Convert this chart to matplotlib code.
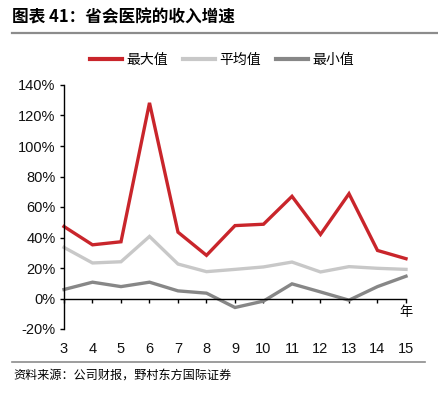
import matplotlib
matplotlib.use("Agg")
import matplotlib.pyplot as plt
from matplotlib.lines import Line2D
from matplotlib.ticker import FuncFormatter

years = [3, 4, 5, 6, 7, 8, 9, 10, 11, 12, 13, 14, 15]
max_vals = [47.2, 35.2, 37.2, 128.3, 43.5, 28.3, 47.8, 48.7, 67.0, 42.0, 68.7, 31.5, 26.1]
avg_vals = [33.5, 23.3, 24.1, 40.7, 22.6, 17.6, 19.1, 20.7, 23.9, 17.4, 20.9, 19.8, 19.1]
min_vals = [5.9, 10.7, 7.8, 10.7, 5.0, 3.5, -5.9, -1.7, 9.6, 4.3, -1.1, 7.8, 14.6]
series_names = ["最大值", "平均值", "最小值"]
yticks = [-20, 0, 20, 40, 60, 80, 100, 120, 140]

cjk = ["Noto Sans CJK SC", "DejaVu Sans"]
num = ["Liberation Sans", "DejaVu Sans"]

W, H = 439, 396
fig = plt.figure(figsize=(W / 100, H / 100), dpi=100)

def fx(px):
    return px / W

def fy(py):
    return 1 - py / H

ax = fig.add_axes([fx(64), fy(329), fx(406) - fx(64), fy(85) - fy(329)])

colors = ["#C9252B", "#C8C8C8", "#878787"]
for vals, c, name in zip([max_vals, avg_vals, min_vals], colors, series_names):
    ax.plot(years, vals, color=c, lw=2.4, label=name, solid_joinstyle="miter", clip_on=False)

ax.set_xlim(3, 15)
ax.set_ylim(-20, 140)
ax.set_yticks(yticks)
ax.yaxis.set_major_formatter(FuncFormatter(lambda v, p: f"{v:.0f}%"))
ax.set_xticks(years)
ax.set_xticklabels([str(y) for y in years])
for s in ["top", "right"]:
    ax.spines[s].set_visible(False)
ax.spines["bottom"].set_position(("data", 0))
ax.spines["left"].set_linewidth(1.0)
ax.spines["bottom"].set_linewidth(1.0)
ax.tick_params(axis="y", direction="out", length=3, width=1, pad=3, labelsize=10.5)
ax.tick_params(axis="x", direction="out", length=3, width=1, pad=28, labelsize=10.5)
for lab in ax.get_xticklabels() + ax.get_yticklabels():
    lab.set_fontfamily(num)
    lab.set_color("#111111")

ax.text(15, -5, "年", fontfamily=cjk, fontsize=9.5, ha="center", va="top")

# legend
handles = [Line2D([0], [0], color=c, lw=3) for c in colors]
leg = fig.legend(handles, series_names, loc="center", bbox_to_anchor=(fx(222), fy(60)),
                 ncol=3, frameon=False, prop={"family": cjk, "size": 10},
                 handlelength=2.3, handletextpad=0.3, columnspacing=1.1)

# title and rules
fig.text(fx(12), fy(18), "图表 41：省会医院的收入增速", fontfamily=cjk, fontsize=12,
         fontweight="bold", ha="left", va="center")
fig.add_artist(Line2D([fx(12), fx(439)], [fy(33), fy(33)], color="#8C8C8C", lw=1.6))
fig.add_artist(Line2D([fx(12), fx(425)], [fy(362), fy(362)], color="#8C8C8C", lw=1.2))
fig.text(fx(13), fy(375), "资料来源：公司财报，野村东方国际证券", fontfamily=cjk, fontsize=8.7,
         ha="left", va="center")

fig.savefig("out.png", dpi=100)
